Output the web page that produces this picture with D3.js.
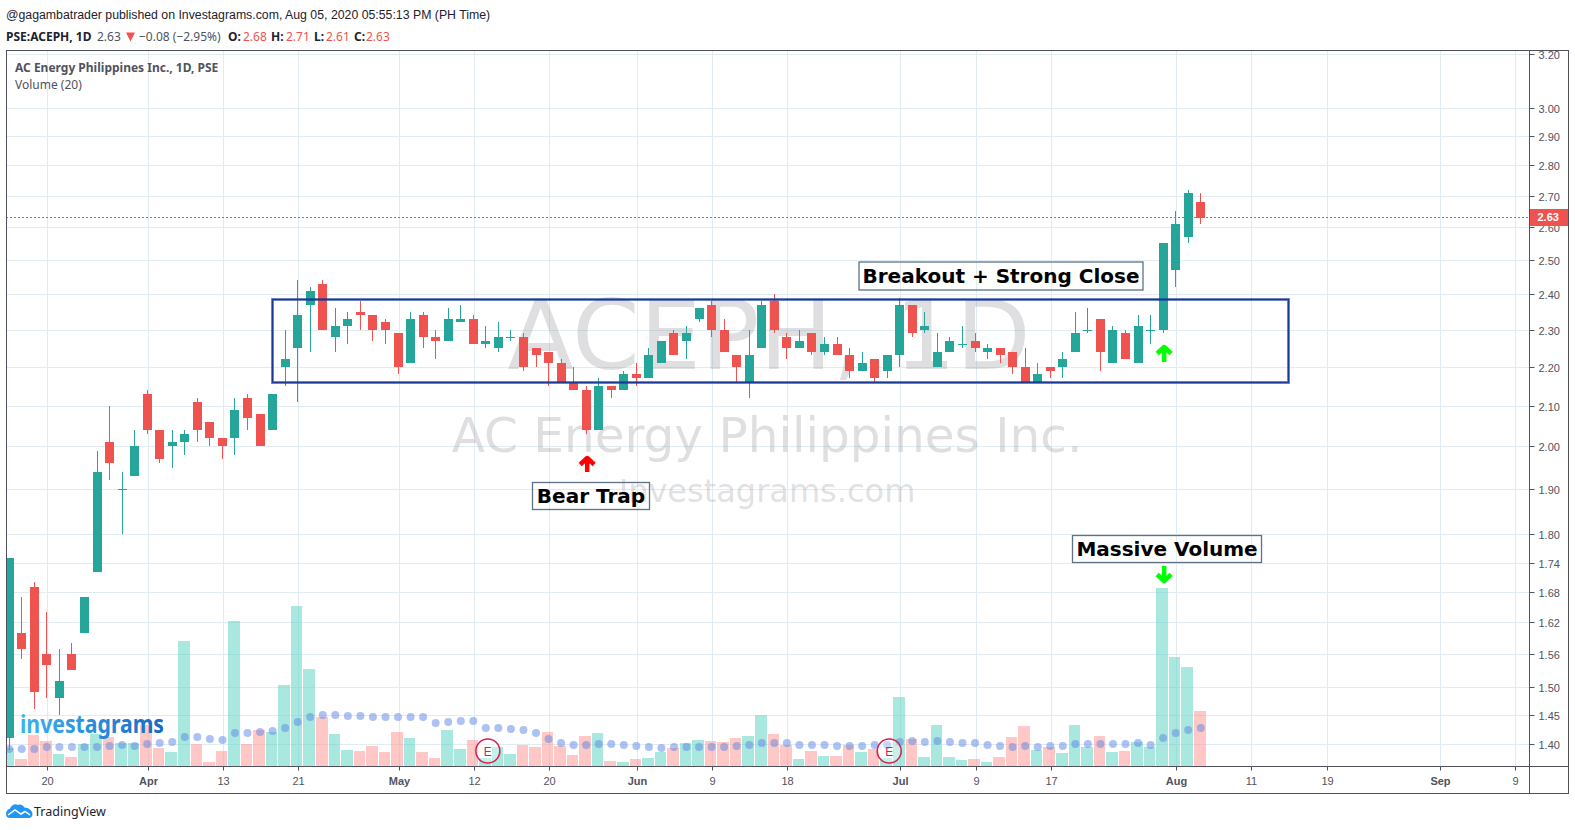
<!DOCTYPE html>
<html>

<head>
	<title>ACEPH 1D</title>
	<meta charset="utf-8">
	<script src="https://cdn.jsdelivr.net/npm/d3@7"></script>
	<style>
		html, body { margin: 0; padding: 0; background: #fff; overflow: hidden; }
		svg { display: block; }
		text { font-family: "Liberation Sans", Arial, sans-serif; }
		.tahoma { font-family: "Noto Sans", sans-serif; }
		.verdana { font-family: "DejaVu Sans", sans-serif; }
	</style>
</head>

<body>
	<svg id="chart" width="1575" height="830"></svg>

	<script>
		// one entry per trading day
		var opens = [1.41, 1.60, 1.69, 1.56, 1.48, 1.56, 1.60, 1.72, 2.01, 1.90, 1.93, 2.13, 2.04, 2.00, 2.01, 2.11, 2.06, 2.02, 2.02, 2.12, 2.08, 2.04, 2.20, 2.25, 2.37, 2.43, 2.28, 2.31, 2.35, 2.34, 2.32, 2.29, 2.21, 2.34, 2.28, 2.27, 2.32, 2.33, 2.26, 2.25, 2.28, 2.28, 2.25, 2.24, 2.21, 2.16, 2.14, 2.04, 2.15, 2.14, 2.18, 2.17, 2.21, 2.29, 2.27, 2.33, 2.37, 2.30, 2.23, 2.16, 2.25, 2.38, 2.28, 2.25, 2.29, 2.24, 2.26, 2.23, 2.19, 2.22, 2.19, 2.23, 2.37, 2.30, 2.20, 2.24, 2.26, 2.27, 2.24, 2.25, 2.24, 2.20, 2.16, 2.20, 2.20, 2.24, 2.30, 2.33, 2.21, 2.29, 2.21, 2.30, 2.30, 2.47, 2.57, 2.68]
		var highs = [1.75, 1.67, 1.70, 1.64, 1.57, 1.58, 1.67, 1.99, 2.10, 1.94, 2.04, 2.14, 2.04, 2.04, 2.04, 2.12, 2.06, 2.02, 2.12, 2.13, 2.08, 2.13, 2.30, 2.44, 2.42, 2.44, 2.36, 2.35, 2.38, 2.34, 2.33, 2.29, 2.35, 2.35, 2.30, 2.36, 2.37, 2.34, 2.31, 2.32, 2.30, 2.29, 2.25, 2.24, 2.22, 2.20, 2.15, 2.17, 2.15, 2.19, 2.21, 2.25, 2.27, 2.30, 2.31, 2.36, 2.38, 2.33, 2.23, 2.30, 2.38, 2.40, 2.29, 2.30, 2.29, 2.28, 2.28, 2.25, 2.24, 2.22, 2.23, 2.39, 2.37, 2.35, 2.29, 2.28, 2.31, 2.29, 2.26, 2.25, 2.24, 2.25, 2.21, 2.20, 2.24, 2.35, 2.36, 2.33, 2.31, 2.30, 2.34, 2.34, 2.55, 2.65, 2.72, 2.71]
		var lows = [1.39, 1.55, 1.46, 1.48, 1.45, 1.53, 1.60, 1.72, 1.92, 1.80, 1.93, 2.03, 1.96, 1.95, 1.98, 2.01, 2.00, 1.97, 1.98, 2.04, 2.00, 2.04, 2.15, 2.11, 2.24, 2.30, 2.24, 2.26, 2.30, 2.27, 2.26, 2.18, 2.21, 2.25, 2.22, 2.27, 2.32, 2.26, 2.25, 2.24, 2.27, 2.19, 2.20, 2.15, 2.16, 2.14, 2.03, 2.04, 2.12, 2.14, 2.15, 2.17, 2.21, 2.23, 2.22, 2.32, 2.28, 2.24, 2.16, 2.12, 2.25, 2.29, 2.22, 2.25, 2.23, 2.23, 2.23, 2.17, 2.19, 2.16, 2.17, 2.20, 2.28, 2.29, 2.20, 2.24, 2.25, 2.24, 2.22, 2.21, 2.18, 2.16, 2.16, 2.17, 2.17, 2.24, 2.29, 2.19, 2.21, 2.22, 2.21, 2.26, 2.29, 2.42, 2.55, 2.61]
		var closes = [1.75, 1.57, 1.49, 1.54, 1.51, 1.53, 1.67, 1.94, 1.96, 1.90, 2.00, 2.04, 1.97, 2.01, 2.03, 2.04, 2.02, 2.00, 2.09, 2.07, 2.00, 2.13, 2.22, 2.34, 2.41, 2.30, 2.31, 2.33, 2.34, 2.30, 2.30, 2.20, 2.33, 2.28, 2.27, 2.33, 2.33, 2.26, 2.27, 2.28, 2.28, 2.20, 2.23, 2.21, 2.16, 2.14, 2.04, 2.15, 2.14, 2.18, 2.17, 2.23, 2.27, 2.23, 2.29, 2.36, 2.30, 2.24, 2.20, 2.23, 2.37, 2.30, 2.25, 2.27, 2.24, 2.26, 2.23, 2.19, 2.21, 2.17, 2.23, 2.37, 2.29, 2.31, 2.24, 2.27, 2.26, 2.25, 2.25, 2.23, 2.20, 2.16, 2.18, 2.19, 2.22, 2.29, 2.30, 2.24, 2.30, 2.22, 2.31, 2.30, 2.55, 2.61, 2.71, 2.63]
		// volume in millions of shares (scale estimated, no volume axis on the chart)
		var volumes = [1.8, 0.7, 3.1, 2.5, 1.2, 0.9, 2.2, 3.2, 2.9, 2.3, 2.3, 4.1, 1.8, 1.4, 12.5, 2.2, 0.4, 1.5, 14.5, 2.2, 3.6, 3.4, 8.1, 16.0, 9.7, 4.9, 3.2, 1.6, 1.5, 2.0, 1.4, 3.4, 2.8, 1.4, 0.8, 3.6, 1.7, 2.6, 0.8, 1.9, 1.2, 2.1, 1.9, 3.4, 2.0, 1.1, 3.0, 3.3, 0.5, 0.4, 0.7, 0.8, 1.4, 1.8, 2.3, 2.6, 2.5, 2.4, 2.8, 3.0, 5.1, 3.2, 2.1, 0.7, 1.5, 1.0, 1.0, 2.1, 1.4, 1.7, 0.8, 6.9, 2.7, 0.9, 4.1, 0.9, 0.6, 0.7, 0.4, 0.9, 2.9, 4.0, 1.6, 1.9, 1.3, 4.1, 1.9, 3.0, 1.4, 1.5, 2.4, 1.9, 17.8, 10.9, 9.9, 5.5]
		var volumeMA = [1.7, 1.7, 1.7, 1.9, 1.9, 1.9, 1.9, 1.9, 2.0, 2.1, 2.0, 2.2, 2.3, 2.4, 2.9, 2.9, 2.7, 2.6, 3.3, 3.3, 3.4, 3.5, 3.8, 4.4, 4.9, 5.1, 5.1, 5.0, 5.0, 4.9, 4.9, 4.9, 4.9, 4.9, 4.3, 4.4, 4.5, 4.5, 3.8, 3.8, 3.7, 3.6, 3.3, 2.7, 2.3, 2.1, 2.1, 2.2, 2.2, 2.1, 2.0, 1.9, 1.8, 1.9, 1.9, 1.9, 1.9, 1.9, 2.0, 2.1, 2.3, 2.3, 2.3, 2.1, 2.1, 2.1, 2.0, 2.0, 2.0, 2.1, 2.1, 2.4, 2.5, 2.4, 2.5, 2.4, 2.3, 2.3, 2.1, 2.0, 1.9, 2.0, 1.9, 2.0, 2.0, 2.2, 2.2, 2.2, 2.2, 2.2, 2.3, 2.1, 2.8, 3.3, 3.6, 3.8]

		var priceTicks = [3.20, 3.00, 2.90, 2.80, 2.70, 2.60, 2.50, 2.40, 2.30, 2.20, 2.10, 2.00, 1.90, 1.80, 1.74, 1.68, 1.62, 1.56, 1.50, 1.45, 1.40]
		var timeTickDays = [3, 11, 17, 23, 31, 37, 43, 50, 56, 62, 71, 77, 83, 93, 99, 105, 114, 120]
		var timeTickLabels = ['20', 'Apr', '13', '21', 'May', '12', '20', 'Jun', '9', '18', 'Jul', '9', '17', 'Aug', '11', '19', 'Sep', '9']
		var monthLabels = ['Apr', 'May', 'Jun', 'Jul', 'Aug', 'Sep']
		var earningsDays = [38, 70]
		var lastPrice = 2.63

		var green = '#26a69a', red = '#ef5350'
		var frameColor = '#50535e', gridColor = '#e1ecf2'
		var plotLeft = 6, plotTop = 50, plotRight = 1529, outerRight = 1568, axisY = 766, plotBottom = 793

		var svg = d3.select('#chart')

		var defs = svg.append('defs')
		defs.append('clipPath').attr('id', 'plot')
			.append('rect').attr('x', plotLeft + 1).attr('y', plotTop + 1)
			.attr('width', plotRight - plotLeft - 1).attr('height', axisY - plotTop - 1)
		var logoGrad = defs.append('linearGradient').attr('id', 'logoGrad')
		logoGrad.append('stop').attr('offset', '0%').attr('stop-color', '#3db4f0')
		logoGrad.append('stop').attr('offset', '100%').attr('stop-color', '#1a68c4')

		// scales
		var x = d3.scaleLinear().domain([0, 95]).range([9.2, 9.2 + 12.543 * 95])
		var y = d3.scaleLog().domain([1.40, 3.00]).range([744.3, 107.7])
		var volY = d3.scaleLinear().domain([0, 17.8]).range([axisY, 588])

		function px(i) { return Math.floor(x(i)) }
		function py(v) { return Math.round(y(v)) }

		// header text
		svg.append('text').attr('x', 6).attr('y', 19).attr('font-size', 12.3).attr('fill', '#1e222d')
			.text('@gagambatrader published on Investagrams.com, Aug 05, 2020 05:55:13 PM (PH Time)')

		var legendParts = [
			[6, 'PSE:ACEPH, 1D', true, '#1e222d'],
			[97, '2.63', false, '#50535e'],
			[139, '\u22120.08 (\u22122.95%)', false, '#50535e'],
			[228, 'O:', true, '#1e222d'], [243, '2.68', false, red],
			[271, 'H:', true, '#1e222d'], [286, '2.71', false, red],
			[314, 'L:', true, '#1e222d'], [326, '2.61', false, red],
			[354, 'C:', true, '#1e222d'], [366, '2.63', false, red]
		]
		svg.append('g').selectAll('text').data(legendParts).enter().append('text')
			.attr('class', 'tahoma')
			.attr('x', function(d) { return d[0] })
			.attr('y', 41)
			.attr('font-size', 12)
			.attr('font-weight', function(d) { return d[2] ? 700 : 400 })
			.attr('fill', function(d) { return d[3] })
			.text(function(d) { return d[1] })
		svg.append('path').attr('d', 'M126,32.5h9l-4.5,9z').attr('fill', red)

		// grid
		var grid = svg.append('g').attr('clip-path', 'url(#plot)')
		grid.selectAll('line.h').data(priceTicks).enter().append('line')
			.attr('x1', plotLeft).attr('x2', plotRight)
			.attr('y1', function(d) { return py(d) + 0.5 }).attr('y2', function(d) { return py(d) + 0.5 })
			.attr('stroke', gridColor)
		grid.selectAll('line.v').data(timeTickDays).enter().append('line')
			.attr('x1', function(d) { return px(d) + 1.5 }).attr('x2', function(d) { return px(d) + 1.5 })
			.attr('y1', plotTop).attr('y2', axisY)
			.attr('stroke', gridColor)

		// watermark
		var marks = [['ACEPH, 1D', 369, 97, 769], ['AC Energy Philippines Inc.', 452, 48.5, 767], ['Investagrams.com', 502, 32, 767]]
		svg.append('g').selectAll('text').data(marks).enter().append('text')
			.attr('class', 'verdana')
			.attr('x', function(d) { return d[3] })
			.attr('y', function(d) { return d[1] })
			.attr('font-size', function(d) { return d[2] })
			.attr('text-anchor', 'middle')
			.attr('fill', 'rgba(120,123,134,0.24)')
			.text(function(d) { return d[0] })

		var plot = svg.append('g').attr('clip-path', 'url(#plot)')

		// volume
		plot.append('g').selectAll('rect').data(volumes).enter().append('rect')
			.attr('x', function(d, i) { return Math.floor(x(i - 0.5)) })
			.attr('width', function(d, i) { return Math.floor(x(i + 0.5)) - Math.floor(x(i - 0.5)) - 1 })
			.attr('y', function(d) { return Math.round(volY(d)) })
			.attr('height', function(d) { return axisY - Math.round(volY(d)) })
			.attr('fill', function(d, i) { return closes[i] >= opens[i] ? 'rgba(83,209,192,0.5)' : 'rgba(255,146,142,0.5)' })

		plot.append('g').selectAll('circle').data(volumeMA).enter().append('circle')
			.attr('cx', function(d, i) { return x(i) })
			.attr('cy', function(d) { return volY(d) })
			.attr('r', 4)
			.attr('fill', 'rgba(91,134,229,0.5)')

		// last price line
		plot.append('line')
			.attr('x1', plotLeft).attr('x2', plotRight)
			.attr('y1', py(lastPrice) - 0.5).attr('y2', py(lastPrice) - 0.5)
			.attr('stroke', red).attr('stroke-dasharray', '2,2')

		// candles
		var candles = plot.append('g').selectAll('g').data(opens).enter().append('g')
			.attr('fill', function(d, i) { return closes[i] >= opens[i] ? green : red })
		candles.append('rect')
			.attr('x', function(d, i) { return px(i) })
			.attr('width', 1)
			.attr('y', function(d, i) { return py(highs[i]) })
			.attr('height', function(d, i) { return py(lows[i]) - py(highs[i]) })
		candles.append('rect')
			.attr('x', function(d, i) { return px(i) - 4 })
			.attr('width', 9)
			.attr('y', function(d, i) { return py(Math.max(opens[i], closes[i])) })
			.attr('height', function(d, i) { return Math.max(1, py(Math.min(opens[i], closes[i])) - py(Math.max(opens[i], closes[i]))) })

		// blue range box
		var boxX1 = Math.round(x(20.95)), boxX2 = Math.round(x(102)) - 1, boxY1 = py(2.386) + 1, boxY2 = py(2.16) + 1
		plot.append('rect').attr('x', boxX1 + 0.5).attr('y', boxY1 - 0.5)
			.attr('width', boxX2 - boxX1).attr('height', boxY2 - boxY1)
			.attr('fill', 'none').attr('stroke', '#1b3aa0').attr('stroke-opacity', 0.55).attr('stroke-width', 3)
		plot.append('rect').attr('x', boxX1 + 0.5).attr('y', boxY1 - 0.5)
			.attr('width', boxX2 - boxX1).attr('height', boxY2 - boxY1)
			.attr('fill', 'none').attr('stroke', '#1b3a96').attr('stroke-width', 1.4)

		// earnings markers
		var eMarks = plot.append('g').selectAll('g').data(earningsDays).enter().append('g')
			.attr('transform', function(d) { return 'translate(' + (x(d) + 2) + ',751)' })
		eMarks.append('circle').attr('r', 12).attr('fill', 'rgba(255,255,255,0.35)')
			.attr('stroke', '#d81e4e').attr('stroke-width', 1.5)
		eMarks.append('text').attr('text-anchor', 'middle').attr('y', 4.5).attr('font-size', 12)
			.attr('fill', '#d81e4e').text('E')

		// investagrams logo
		svg.append('text').attr('class', 'tahoma')
			.attr('x', 20).attr('y', 732.5)
			.attr('font-size', 25).attr('font-weight', 700)
			.attr('textLength', 144).attr('lengthAdjust', 'spacingAndGlyphs')
			.attr('fill', 'url(#logoGrad)')
			.text('investagrams')

		// text callouts, boxes are see-through
		var callouts = [
			['Breakout + Strong Close', 859, 262, 284, 28],
			['Bear Trap', 532.5, 482.5, 117, 27],
			['Massive Volume', 1072.5, 535.5, 189, 27]
		]
		var callG = svg.append('g').selectAll('g').data(callouts).enter().append('g')
		callG.append('rect')
			.attr('x', function(d) { return d[1] }).attr('y', function(d) { return d[2] })
			.attr('width', function(d) { return d[3] }).attr('height', function(d) { return d[4] })
			.attr('fill', 'none').attr('stroke', '#5d7286').attr('stroke-width', 1.3)
		callG.append('text').attr('class', 'verdana')
			.attr('x', function(d) { return d[1] + d[3] / 2 })
			.attr('y', function(d) { return d[2] + 20.5 })
			.attr('text-anchor', 'middle')
			.attr('font-size', 20).attr('font-weight', 700).attr('fill', '#000')
			.text(function(d) { return d[0] })

		// arrows
		function arrow(cx, tip, tail, color) {
			var dir = tail > tip ? 1 : -1
			svg.append('path')
				.attr('d', 'M' + cx + ',' + tail + 'L' + cx + ',' + (tip + dir * 2)
					+ 'M' + (cx - 7) + ',' + (tip + dir * 8.5) + 'L' + cx + ',' + (tip + dir * 2) + 'L' + (cx + 7) + ',' + (tip + dir * 8.5))
				.attr('fill', 'none').attr('stroke', color).attr('stroke-width', 4.5).attr('stroke-linejoin', 'round')
		}
		arrow(x(46) + 1, 456, 472, '#ff0000')
		arrow(x(92) + 1, 345, 362, '#00ff00')
		arrow(x(92) + 1, 583, 566, '#00ff00')

		// axes
		var yAxis = d3.axisRight(y).tickValues(priceTicks).tickFormat(d3.format('.2f')).tickSize(5).tickPadding(4)
		var yG = svg.append('g').attr('transform', 'translate(' + (plotRight + 0.5) + ',0)').call(yAxis)
		yG.select('.domain').remove()
		yG.selectAll('.tick').attr('transform', function(d) { return 'translate(0,' + (py(d) + 0.5) + ')' })
		yG.selectAll('.tick line').attr('stroke', frameColor)
		yG.selectAll('.tick text').attr('fill', frameColor).attr('font-size', 11).attr('y', 0.5)
			.attr('font-family', '"Liberation Sans", Arial, sans-serif')

		var xAxis = d3.axisBottom(x).tickValues(timeTickDays)
			.tickFormat(function(d) { return timeTickLabels[timeTickDays.indexOf(d)] })
			.tickSize(4).tickPadding(7)
		var xG = svg.append('g').attr('transform', 'translate(0,' + (axisY + 0.5) + ')').call(xAxis)
		xG.select('.domain').remove()
		xG.selectAll('.tick').attr('transform', function(d) { return 'translate(' + (px(d) + 1.5) + ',0)' })
		xG.selectAll('.tick line').attr('stroke', frameColor)
		xG.selectAll('.tick text').attr('fill', frameColor).attr('font-size', 11)
			.attr('font-family', '"Liberation Sans", Arial, sans-serif')
			.attr('font-weight', function(d) { return monthLabels.indexOf(timeTickLabels[timeTickDays.indexOf(d)]) >= 0 ? 700 : 400 })

		// the top label is cut by the frame
		svg.append('rect').attr('x', plotRight + 1).attr('y', plotTop - 8).attr('width', outerRight - plotRight + 6).attr('height', 8).attr('fill', '#fff')

		// last price tag
		svg.append('rect').attr('x', plotRight).attr('y', py(lastPrice) - 9)
			.attr('width', outerRight - plotRight).attr('height', 17).attr('fill', red)
		svg.append('text').attr('x', plotRight + 8.5).attr('y', py(lastPrice) + 3)
			.attr('font-size', 11).attr('font-weight', 700).attr('fill', '#fff').text(lastPrice.toFixed(2))

		// frame
		svg.append('rect').attr('x', plotLeft + 0.5).attr('y', plotTop + 0.5)
			.attr('width', outerRight - plotLeft).attr('height', plotBottom - plotTop)
			.attr('fill', 'none').attr('stroke', frameColor)
		svg.append('line').attr('x1', plotRight + 0.5).attr('x2', plotRight + 0.5).attr('y1', plotTop).attr('y2', plotBottom).attr('stroke', frameColor)
		svg.append('line').attr('x1', plotLeft).attr('x2', outerRight).attr('y1', axisY + 0.5).attr('y2', axisY + 0.5).attr('stroke', frameColor)

		// chart title
		svg.append('text').attr('class', 'tahoma').attr('x', 15).attr('y', 72)
			.attr('font-size', 12).attr('font-weight', 700).attr('fill', '#50535e')
			.text('AC Energy Philippines Inc., 1D, PSE')
		svg.append('text').attr('class', 'tahoma').attr('x', 15).attr('y', 89)
			.attr('font-size', 12).attr('fill', '#50535e').text('Volume (20)')

		// TradingView logo
		svg.append('path')
			.attr('d', 'M6,814c0-3,2-5,4-5.5c1.5-3.5,5-5.500,8-3.500c2-1,5,0,6.500,2.500c4,0,8,3,8,6.500c0,2-1,4-4,4H10c-2.500,0-4-1.500-4-4z')
			.attr('fill', '#2196f3')
		svg.append('path').attr('d', 'M8,815l7-5l6,4l4-2.500l5,3.500')
			.attr('fill', 'none').attr('stroke', '#fff').attr('stroke-width', 1.5)
		svg.append('text').attr('class', 'tahoma').attr('x', 34).attr('y', 816)
			.attr('font-size', 12.5).attr('fill', '#1e222d').text('TradingView')
	</script>
</body>

</html>
